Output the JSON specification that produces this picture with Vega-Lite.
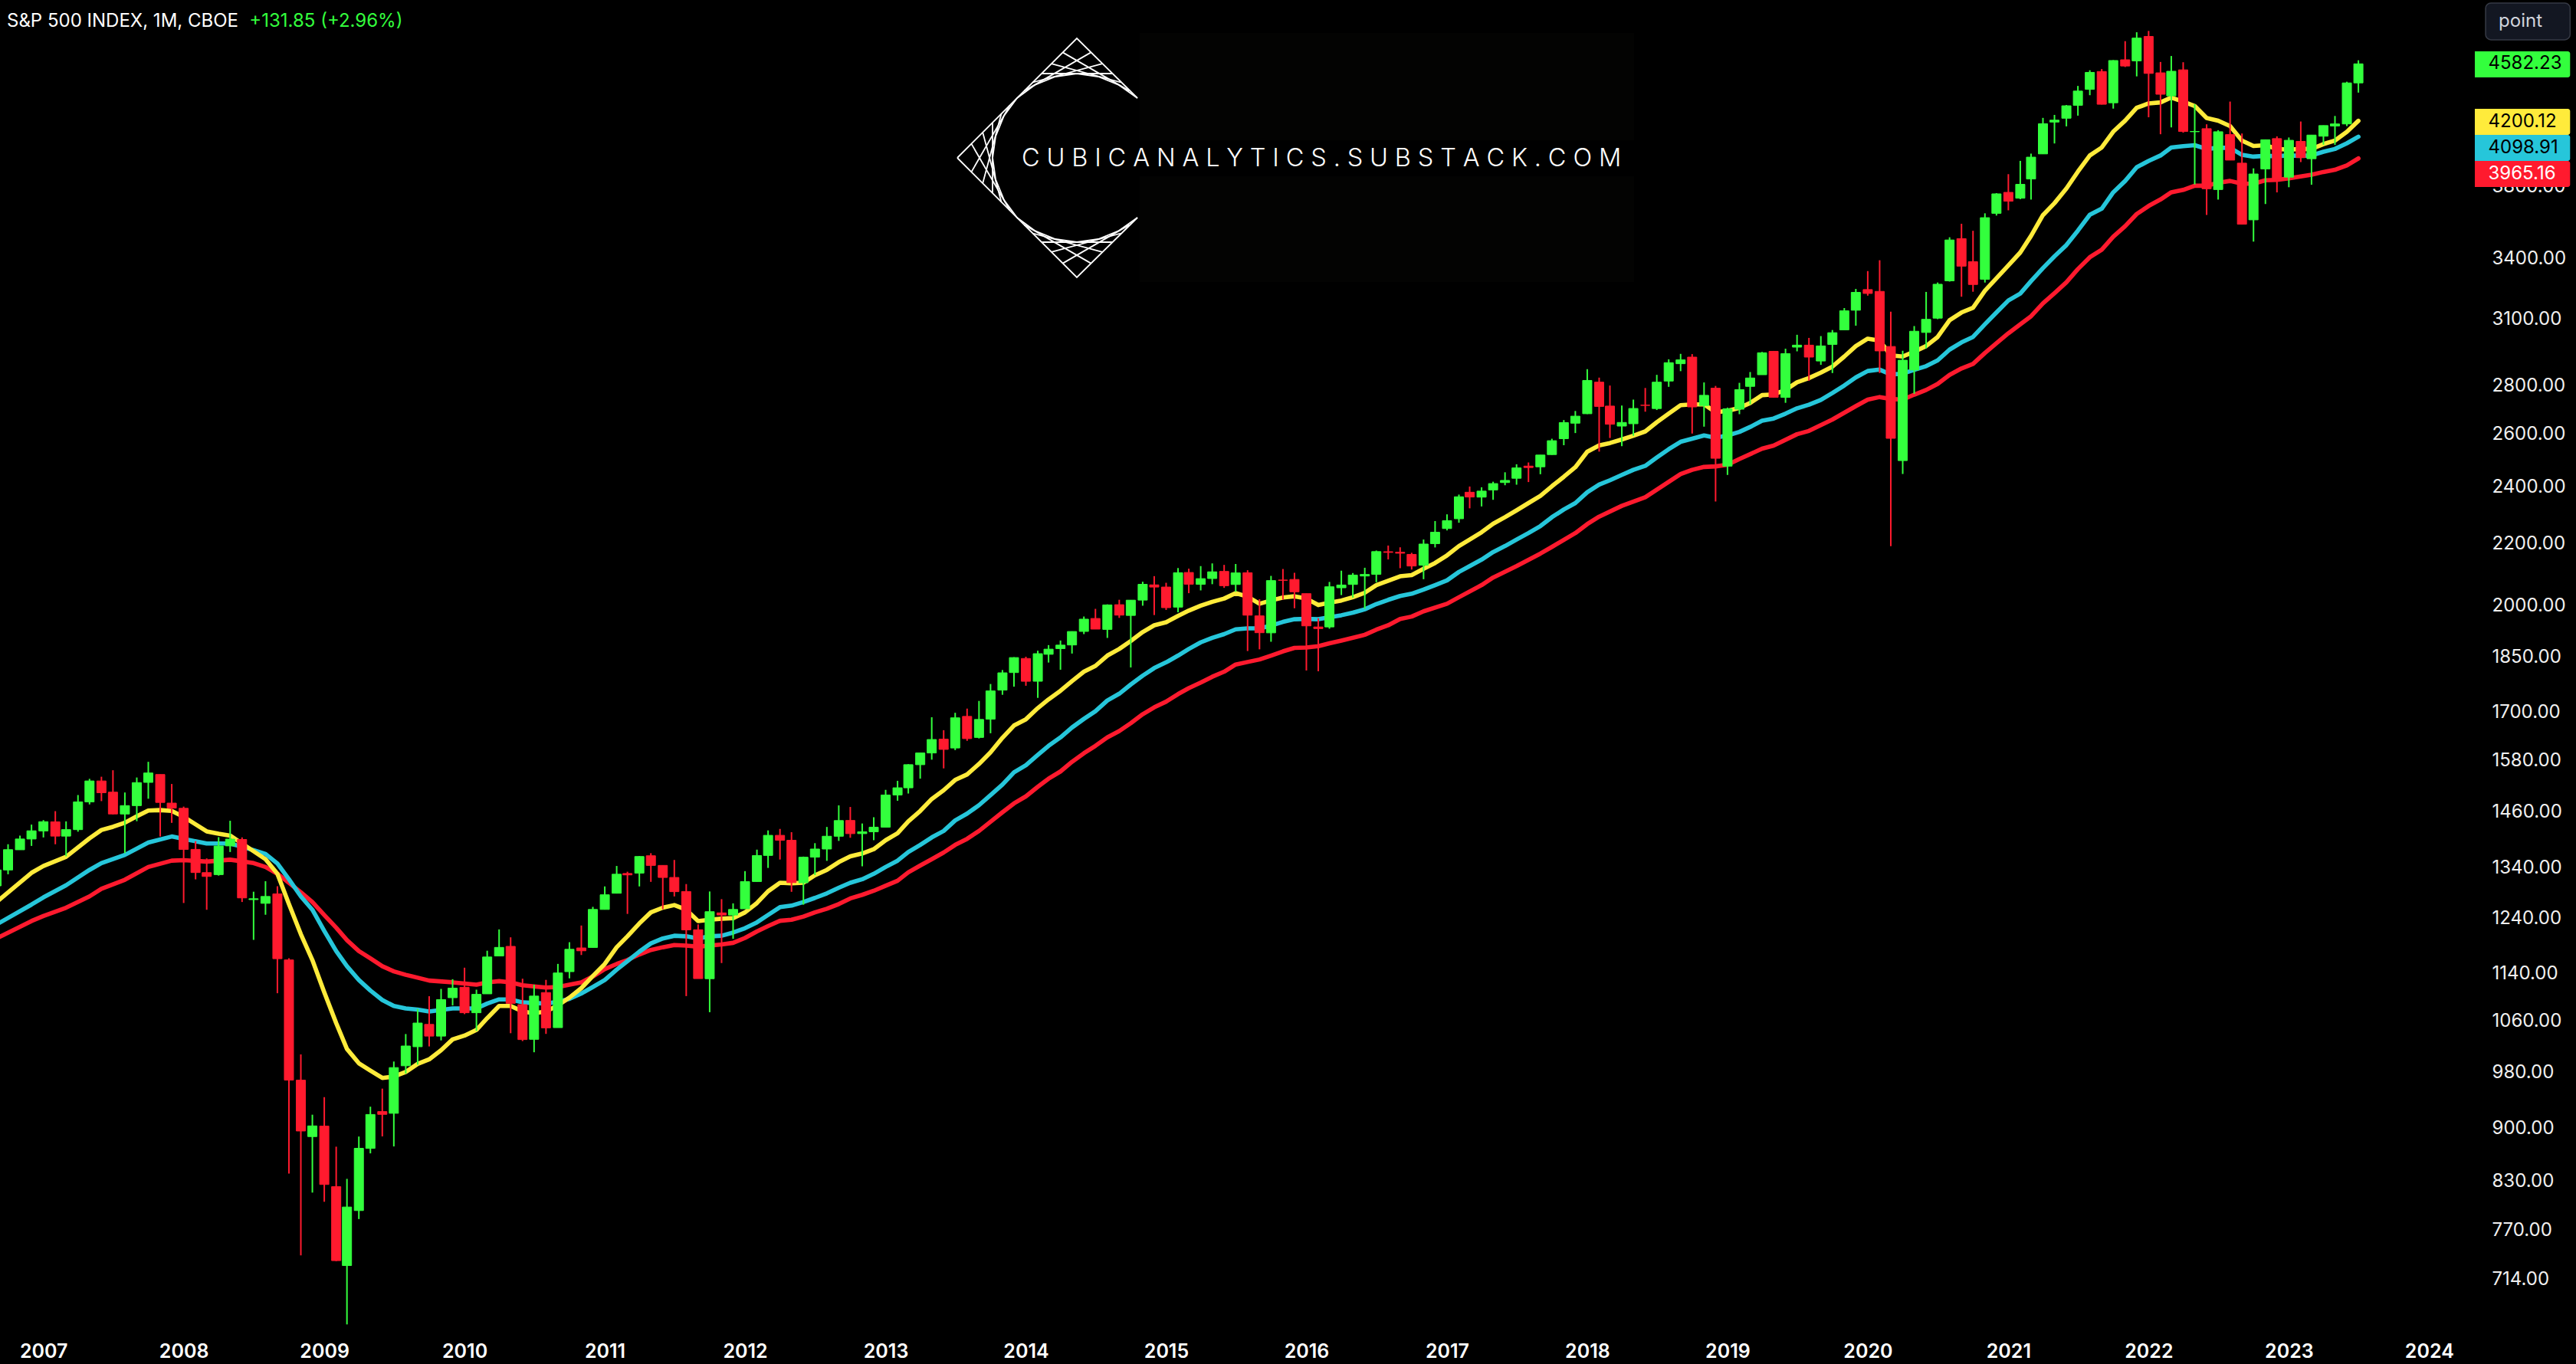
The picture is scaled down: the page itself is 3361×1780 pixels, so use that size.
{"$schema":"https://vega.github.io/schema/vega-lite/v6.json","width":3240,"height":1735,"padding":{"left":0,"top":0,"right":121,"bottom":45},"autosize":{"type":"none"},"background":"#000000","view":{"stroke":null},
"config":{"font":"Inter","axis":{"grid":false,"ticks":false,"domain":false}},
"datasets":{
"candles":[
{"d":"2006-09-01","o":1303.8,"h":1340.28,"l":1291.8,"c":1335.85},
{"d":"2006-10-01","o":1335.8,"h":1389.45,"l":1327.1,"c":1377.94},{"d":"2006-11-01","o":1377.76,"h":1407.89,"l":1377.76,"c":1400.63},{"d":"2006-12-01","o":1400.63,"h":1431.81,"l":1385.93,"c":1418.3},
{"d":"2007-01-01","o":1418.03,"h":1441.61,"l":1403.97,"c":1438.24},{"d":"2007-02-01","o":1437.9,"h":1461.57,"l":1389.42,"c":1406.82},{"d":"2007-03-01","o":1406.8,"h":1438.89,"l":1363.98,"c":1420.86},{"d":"2007-04-01","o":1420.83,"h":1498.02,"l":1416.37,"c":1482.37},{"d":"2007-05-01","o":1482.37,"h":1535.56,"l":1476.7,"c":1530.62},{"d":"2007-06-01","o":1530.62,"h":1540.56,"l":1484.18,"c":1503.35},{"d":"2007-07-01","o":1504.66,"h":1555.9,"l":1454.25,"c":1455.27},{"d":"2007-08-01","o":1455.18,"h":1503.89,"l":1370.6,"c":1473.99},{"d":"2007-09-01","o":1473.96,"h":1538.74,"l":1439.29,"c":1526.75},{"d":"2007-10-01","o":1527.29,"h":1576.09,"l":1489.56,"c":1549.38},{"d":"2007-11-01","o":1545.79,"h":1545.79,"l":1406.1,"c":1481.14},{"d":"2007-12-01","o":1479.63,"h":1523.57,"l":1435.65,"c":1468.36},
{"d":"2008-01-01","o":1467.97,"h":1471.77,"l":1270.05,"c":1378.55},{"d":"2008-02-01","o":1378.6,"h":1396.02,"l":1316.75,"c":1330.63},{"d":"2008-03-01","o":1330.45,"h":1359.68,"l":1256.98,"c":1322.7},{"d":"2008-04-01","o":1326.41,"h":1404.57,"l":1324.35,"c":1385.59},{"d":"2008-05-01","o":1385.97,"h":1440.24,"l":1373.07,"c":1400.38},{"d":"2008-06-01","o":1399.62,"h":1404.05,"l":1272,"c":1280},{"d":"2008-07-01","o":1276.69,"h":1292.17,"l":1200.44,"c":1278.38},{"d":"2008-08-01","o":1269.42,"h":1313.15,"l":1247.45,"c":1282.83},{"d":"2008-09-01","o":1287.83,"h":1303.04,"l":1106.42,"c":1166.36},{"d":"2008-10-01","o":1164.17,"h":1167.03,"l":839.8,"c":968.75},{"d":"2008-11-01","o":968.67,"h":1007.51,"l":741.02,"c":896.24},{"d":"2008-12-01","o":888.61,"h":918.85,"l":815.69,"c":903.25},
{"d":"2009-01-01","o":902.99,"h":943.85,"l":804.3,"c":825.88},{"d":"2009-02-01","o":823.09,"h":875.01,"l":734.52,"c":735.09},{"d":"2009-03-01","o":729.57,"h":832.98,"l":666.79,"c":797.87},{"d":"2009-04-01","o":793.59,"h":888.7,"l":783.32,"c":872.81},{"d":"2009-05-01","o":872.74,"h":930.17,"l":866.1,"c":919.14},{"d":"2009-06-01","o":923.26,"h":956.23,"l":888.86,"c":919.32},{"d":"2009-07-01","o":920.82,"h":996.68,"l":875.32,"c":987.48},{"d":"2009-08-01","o":990.22,"h":1039.47,"l":978.51,"c":1020.62},{"d":"2009-09-01","o":1019.52,"h":1080.15,"l":991.97,"c":1057.08},{"d":"2009-10-01","o":1054.91,"h":1101.36,"l":1019.95,"c":1036.19},{"d":"2009-11-01","o":1036.18,"h":1113.69,"l":1029.38,"c":1095.63},{"d":"2009-12-01","o":1098.89,"h":1130.38,"l":1085.89,"c":1115.1},
{"d":"2010-01-01","o":1116.56,"h":1150.45,"l":1071.59,"c":1073.87},{"d":"2010-02-01","o":1073.89,"h":1112.42,"l":1044.5,"c":1104.49},{"d":"2010-03-01","o":1105.36,"h":1180.69,"l":1105.36,"c":1169.43},{"d":"2010-04-01","o":1171.23,"h":1219.8,"l":1170.69,"c":1186.69},{"d":"2010-05-01","o":1188.58,"h":1205.13,"l":1040.78,"c":1089.41},{"d":"2010-06-01","o":1087.3,"h":1131.23,"l":1028.33,"c":1030.71},{"d":"2010-07-01","o":1031.1,"h":1120.95,"l":1010.91,"c":1101.6},{"d":"2010-08-01","o":1107.53,"h":1129.24,"l":1039.7,"c":1049.33},{"d":"2010-09-01","o":1049.72,"h":1157.16,"l":1049.72,"c":1141.2},{"d":"2010-10-01","o":1143.49,"h":1196.14,"l":1131.87,"c":1183.26},{"d":"2010-11-01","o":1185.71,"h":1227.08,"l":1173,"c":1180.55},{"d":"2010-12-01","o":1186.6,"h":1262.6,"l":1186.6,"c":1257.64},
{"d":"2011-01-01","o":1257.62,"h":1302.67,"l":1257.62,"c":1286.12},{"d":"2011-02-01","o":1289.14,"h":1344.07,"l":1289.14,"c":1327.22},{"d":"2011-03-01","o":1328.64,"h":1332.28,"l":1249.05,"c":1325.83},{"d":"2011-04-01","o":1329.48,"h":1364.56,"l":1302.67,"c":1363.61},{"d":"2011-05-01","o":1365.21,"h":1370.58,"l":1311.8,"c":1345.2},{"d":"2011-06-01","o":1345.2,"h":1345.2,"l":1258.07,"c":1320.64},{"d":"2011-07-01","o":1320.64,"h":1356.48,"l":1282.86,"c":1292.28},{"d":"2011-08-01","o":1292.59,"h":1307.38,"l":1101.54,"c":1218.89},{"d":"2011-09-01","o":1219.12,"h":1229.29,"l":1136.22,"c":1131.42},{"d":"2011-10-01","o":1131.21,"h":1292.66,"l":1074.77,"c":1253.3},{"d":"2011-11-01","o":1251,"h":1277.55,"l":1158.66,"c":1246.96},{"d":"2011-12-01","o":1246.91,"h":1269.37,"l":1202.37,"c":1257.6},
{"d":"2012-01-01","o":1258.86,"h":1333.47,"l":1258.86,"c":1312.41},{"d":"2012-02-01","o":1312.45,"h":1378.04,"l":1312.45,"c":1365.68},{"d":"2012-03-01","o":1365.9,"h":1419.15,"l":1340.03,"c":1408.47},{"d":"2012-04-01","o":1408.47,"h":1422.38,"l":1357.38,"c":1397.91},{"d":"2012-05-01","o":1397.86,"h":1415.32,"l":1291.98,"c":1310.33},{"d":"2012-06-01","o":1309.87,"h":1363.46,"l":1266.74,"c":1362.16},{"d":"2012-07-01","o":1362.33,"h":1391.74,"l":1325.41,"c":1379.32},{"d":"2012-08-01","o":1379.32,"h":1426.68,"l":1354.65,"c":1406.58},{"d":"2012-09-01","o":1406.54,"h":1474.51,"l":1396.56,"c":1440.67},{"d":"2012-10-01","o":1440.9,"h":1470.96,"l":1403.28,"c":1412.16},{"d":"2012-11-01","o":1412.2,"h":1434.27,"l":1343.35,"c":1416.18},{"d":"2012-12-01","o":1416.18,"h":1448,"l":1398.11,"c":1426.19},
{"d":"2013-01-01","o":1426.19,"h":1509.94,"l":1426.19,"c":1498.11},{"d":"2013-02-01","o":1498.11,"h":1530.94,"l":1485.01,"c":1514.68},{"d":"2013-03-01","o":1514.68,"h":1570.28,"l":1501.48,"c":1569.19},{"d":"2013-04-01","o":1569.18,"h":1597.35,"l":1536.03,"c":1597.57},{"d":"2013-05-01","o":1597.55,"h":1687.18,"l":1581.28,"c":1630.74},{"d":"2013-06-01","o":1631.71,"h":1654.19,"l":1560.33,"c":1606.28},{"d":"2013-07-01","o":1609.78,"h":1698.78,"l":1604.57,"c":1685.73},{"d":"2013-08-01","o":1689.42,"h":1709.67,"l":1627.47,"c":1632.97},{"d":"2013-09-01","o":1635.95,"h":1729.86,"l":1633.41,"c":1681.55},{"d":"2013-10-01","o":1682.41,"h":1775.22,"l":1646.47,"c":1756.54},{"d":"2013-11-01","o":1758.7,"h":1813.55,"l":1746.2,"c":1805.81},{"d":"2013-12-01","o":1806.55,"h":1849.44,"l":1767.99,"c":1848.36},
{"d":"2014-01-01","o":1845.86,"h":1850.84,"l":1770.45,"c":1782.59},{"d":"2014-02-01","o":1782.68,"h":1867.92,"l":1737.92,"c":1859.45},{"d":"2014-03-01","o":1857.68,"h":1883.97,"l":1834.44,"c":1872.34},{"d":"2014-04-01","o":1873.96,"h":1897.28,"l":1814.36,"c":1883.95},{"d":"2014-05-01","o":1884.39,"h":1924.03,"l":1859.79,"c":1923.57},{"d":"2014-06-01","o":1923.87,"h":1968.17,"l":1915.98,"c":1960.23},{"d":"2014-07-01","o":1962.29,"h":1991.39,"l":1930.67,"c":1930.67},{"d":"2014-08-01","o":1929.8,"h":2005.04,"l":1904.78,"c":2003.37},{"d":"2014-09-01","o":2004.07,"h":2019.26,"l":1964.04,"c":1972.29},{"d":"2014-10-01","o":1971.44,"h":2018.19,"l":1820.66,"c":2018.05},{"d":"2014-11-01","o":2018.21,"h":2075.76,"l":2001.01,"c":2067.56},{"d":"2014-12-01","o":2065.78,"h":2093.55,"l":1972.56,"c":2058.9},
{"d":"2015-01-01","o":2058.9,"h":2072.36,"l":1988.12,"c":1994.99},{"d":"2015-02-01","o":1996.67,"h":2119.59,"l":1980.9,"c":2104.5},{"d":"2015-03-01","o":2105.23,"h":2117.52,"l":2039.69,"c":2067.89},{"d":"2015-04-01","o":2067.63,"h":2125.92,"l":2048.38,"c":2085.51},{"d":"2015-05-01","o":2085.93,"h":2134.72,"l":2067.93,"c":2107.39},{"d":"2015-06-01","o":2108.64,"h":2129.87,"l":2056.32,"c":2063.11},{"d":"2015-07-01","o":2067,"h":2132.82,"l":2044.02,"c":2103.84},{"d":"2015-08-01","o":2104.49,"h":2112.66,"l":1867.01,"c":1972.18},{"d":"2015-09-01","o":1970.09,"h":2020.86,"l":1871.91,"c":1920.03},{"d":"2015-10-01","o":1919.65,"h":2094.32,"l":1893.7,"c":2079.36},{"d":"2015-11-01","o":2080.76,"h":2116.48,"l":2019.39,"c":2080.41},{"d":"2015-12-01","o":2082.93,"h":2104.27,"l":1993.26,"c":2043.94},
{"d":"2016-01-01","o":2038.2,"h":2038.2,"l":1812.29,"c":1940.24},{"d":"2016-02-01","o":1936.94,"h":1962.96,"l":1810.1,"c":1932.23},{"d":"2016-03-01","o":1937.09,"h":2075.07,"l":1931.81,"c":2059.74},{"d":"2016-04-01","o":2056.62,"h":2111.05,"l":2033.8,"c":2065.3},{"d":"2016-05-01","o":2067.17,"h":2103.48,"l":2025.91,"c":2096.95},{"d":"2016-06-01","o":2093.94,"h":2120.55,"l":1991.68,"c":2098.86},{"d":"2016-07-01","o":2099.34,"h":2177.09,"l":2074.02,"c":2173.6},{"d":"2016-08-01","o":2173.15,"h":2193.81,"l":2147.58,"c":2170.95},{"d":"2016-09-01","o":2171.33,"h":2187.87,"l":2119.12,"c":2168.27},{"d":"2016-10-01","o":2164.33,"h":2169.6,"l":2114.72,"c":2126.15},{"d":"2016-11-01","o":2128.68,"h":2214.1,"l":2083.79,"c":2198.81},{"d":"2016-12-01","o":2200.17,"h":2277.53,"l":2187.44,"c":2238.83},
{"d":"2017-01-01","o":2251.57,"h":2300.99,"l":2245.13,"c":2278.87},{"d":"2017-02-01","o":2285.59,"h":2371.54,"l":2271.65,"c":2363.64},{"d":"2017-03-01","o":2380.13,"h":2400.98,"l":2322.25,"c":2362.72},{"d":"2017-04-01","o":2362.34,"h":2398.16,"l":2328.95,"c":2384.2},{"d":"2017-05-01","o":2388.5,"h":2418.71,"l":2352.72,"c":2411.8},{"d":"2017-06-01","o":2415.65,"h":2453.82,"l":2405.7,"c":2423.41},{"d":"2017-07-01","o":2431.39,"h":2484.04,"l":2407.7,"c":2470.3},{"d":"2017-08-01","o":2477.1,"h":2490.87,"l":2417.35,"c":2471.65},{"d":"2017-09-01","o":2474.42,"h":2519.44,"l":2446.55,"c":2519.36},{"d":"2017-10-01","o":2521.2,"h":2582.98,"l":2520.4,"c":2575.26},{"d":"2017-11-01","o":2583.21,"h":2657.74,"l":2557.45,"c":2647.58},{"d":"2017-12-01","o":2645.1,"h":2694.97,"l":2605.52,"c":2673.61},
{"d":"2018-01-01","o":2683.73,"h":2872.87,"l":2682.36,"c":2823.81},{"d":"2018-02-01","o":2816.45,"h":2835.96,"l":2532.69,"c":2713.83},{"d":"2018-03-01","o":2715.22,"h":2801.9,"l":2585.89,"c":2640.87},{"d":"2018-04-01","o":2633.45,"h":2717.49,"l":2553.8,"c":2648.05},{"d":"2018-05-01","o":2642.96,"h":2742.24,"l":2594.62,"c":2705.27},{"d":"2018-06-01","o":2718.7,"h":2791.47,"l":2691.99,"c":2718.37},{"d":"2018-07-01","o":2704.95,"h":2848.03,"l":2698.95,"c":2816.29},{"d":"2018-08-01","o":2821.17,"h":2916.5,"l":2796.34,"c":2901.52},{"d":"2018-09-01","o":2896.96,"h":2940.91,"l":2864.12,"c":2913.98},{"d":"2018-10-01","o":2926.29,"h":2939.86,"l":2603.54,"c":2711.74},{"d":"2018-11-01","o":2717.58,"h":2815.15,"l":2631.09,"c":2760.17},{"d":"2018-12-01","o":2790.5,"h":2800.18,"l":2346.58,"c":2506.85},
{"d":"2019-01-01","o":2476.96,"h":2708.95,"l":2443.96,"c":2704.1},{"d":"2019-02-01","o":2702.32,"h":2813.49,"l":2681.83,"c":2784.49},{"d":"2019-03-01","o":2798.22,"h":2860.31,"l":2722.27,"c":2834.4},{"d":"2019-04-01","o":2848.63,"h":2949.52,"l":2848.63,"c":2945.83},{"d":"2019-05-01","o":2952.33,"h":2954.13,"l":2750.52,"c":2752.06},{"d":"2019-06-01","o":2751.53,"h":2964.15,"l":2728.81,"c":2941.76},{"d":"2019-07-01","o":2971.41,"h":3027.98,"l":2952.22,"c":2980.38},{"d":"2019-08-01","o":2980.32,"h":3013.59,"l":2822.12,"c":2926.46},{"d":"2019-09-01","o":2909.01,"h":3021.99,"l":2891.85,"c":2976.74},{"d":"2019-10-01","o":2983.69,"h":3050.1,"l":2855.94,"c":3037.56},{"d":"2019-11-01","o":3050.72,"h":3154.26,"l":3050.72,"c":3140.98},{"d":"2019-12-01","o":3143.85,"h":3247.93,"l":3070.33,"c":3230.78},
{"d":"2020-01-01","o":3244.67,"h":3337.77,"l":3214.64,"c":3225.52},{"d":"2020-02-01","o":3235.66,"h":3393.52,"l":2855.84,"c":2954.22},{"d":"2020-03-01","o":2974.28,"h":3136.72,"l":2191.86,"c":2584.59},{"d":"2020-04-01","o":2498.08,"h":2954.86,"l":2447.49,"c":2912.43},{"d":"2020-05-01","o":2869.09,"h":3068.67,"l":2766.64,"c":3044.31},{"d":"2020-06-01","o":3038.78,"h":3233.13,"l":2965.66,"c":3100.29},{"d":"2020-07-01","o":3105.92,"h":3279.99,"l":3101.17,"c":3271.12},{"d":"2020-08-01","o":3288.26,"h":3514.77,"l":3284.53,"c":3500.31},{"d":"2020-09-01","o":3507.44,"h":3588.11,"l":3209.45,"c":3363},{"d":"2020-10-01","o":3385.87,"h":3549.85,"l":3233.94,"c":3269.96},{"d":"2020-11-01","o":3296.2,"h":3645.99,"l":3279.74,"c":3621.63},{"d":"2020-12-01","o":3645.87,"h":3760.2,"l":3633.4,"c":3756.07},
{"d":"2021-01-01","o":3764.61,"h":3870.9,"l":3662.71,"c":3714.24},{"d":"2021-02-01","o":3731.17,"h":3950.43,"l":3725.62,"c":3811.15},{"d":"2021-03-01","o":3842.51,"h":3994.41,"l":3723.34,"c":3972.89},{"d":"2021-04-01","o":3992.78,"h":4218.78,"l":3992.78,"c":4181.17},{"d":"2021-05-01","o":4191.98,"h":4238.04,"l":4056.88,"c":4204.11},{"d":"2021-06-01","o":4216.52,"h":4302.43,"l":4164.4,"c":4297.5},{"d":"2021-07-01","o":4300.73,"h":4429.97,"l":4233.13,"c":4395.26},{"d":"2021-08-01","o":4406.86,"h":4537.36,"l":4367.73,"c":4522.68},{"d":"2021-09-01","o":4528.8,"h":4545.85,"l":4305.91,"c":4307.54},{"d":"2021-10-01","o":4317.16,"h":4608.08,"l":4278.94,"c":4605.38},{"d":"2021-11-01","o":4610.62,"h":4743.83,"l":4560,"c":4567},{"d":"2021-12-01","o":4602.82,"h":4808.93,"l":4495.12,"c":4766.18},
{"d":"2022-01-01","o":4778.14,"h":4818.62,"l":4222.62,"c":4515.55},{"d":"2022-02-01","o":4519.57,"h":4595.31,"l":4114.65,"c":4373.94},{"d":"2022-03-01","o":4363.14,"h":4637.3,"l":4157.87,"c":4530.41},{"d":"2022-04-01","o":4540.32,"h":4593.45,"l":4124.28,"c":4131.93},{"d":"2022-05-01","o":4130.61,"h":4307.66,"l":3810.32,"c":4132.15},{"d":"2022-06-01","o":4149.78,"h":4177.51,"l":3636.87,"c":3785.38},{"d":"2022-07-01","o":3781,"h":4140.15,"l":3723.34,"c":4130.29},{"d":"2022-08-01","o":4112.38,"h":4325.28,"l":3954.53,"c":3955},{"d":"2022-09-01","o":3936.73,"h":4119.28,"l":3584.13,"c":3585.62},{"d":"2022-10-01","o":3609.78,"h":3905.42,"l":3491.58,"c":3871.98},{"d":"2022-11-01","o":3901.79,"h":4080.11,"l":3698.15,"c":4080.11},{"d":"2022-12-01","o":4087.14,"h":4100.96,"l":3764.49,"c":3839.5},
{"d":"2023-01-01","o":3853.29,"h":4094.21,"l":3794.33,"c":4076.6},{"d":"2023-02-01","o":4070.07,"h":4195.44,"l":3943.08,"c":3970.15},{"d":"2023-03-01","o":3963.34,"h":4110.75,"l":3808.86,"c":4109.31},{"d":"2023-04-01","o":4102.2,"h":4170.06,"l":4049.35,"c":4169.48},{"d":"2023-05-01","o":4166.79,"h":4231.1,"l":4048.28,"c":4179.83},{"d":"2023-06-01","o":4179.83,"h":4458.48,"l":4166.15,"c":4450.38},{"d":"2023-07-01","o":4450.48,"h":4607.07,"l":4385.05,"c":4582.23}
],
"ma":[
{"d":"2006-09-01","s":"slow","v":1203},{"d":"2006-12-01","s":"slow","v":1235.5},{"d":"2007-01-01","s":"slow","v":1245},{"d":"2007-03-01","s":"slow","v":1261},{"d":"2007-05-01","s":"slow","v":1283},{"d":"2007-06-01","s":"slow","v":1298},{"d":"2007-08-01","s":"slow","v":1316},{"d":"2007-10-01","s":"slow","v":1342},{"d":"2007-12-01","s":"slow","v":1355},{"d":"2008-01-01","s":"slow","v":1356},{"d":"2008-03-01","s":"slow","v":1353},{"d":"2008-05-01","s":"slow","v":1357},{"d":"2008-07-01","s":"slow","v":1350},{"d":"2008-08-01","s":"slow","v":1342},{"d":"2008-09-01","s":"slow","v":1328},{"d":"2008-10-01","s":"slow","v":1310},{"d":"2008-11-01","s":"slow","v":1291},{"d":"2008-12-01","s":"slow","v":1272},{"d":"2009-01-01","s":"slow","v":1247},{"d":"2009-02-01","s":"slow","v":1223},{"d":"2009-03-01","s":"slow","v":1200},{"d":"2009-04-01","s":"slow","v":1180},{"d":"2009-05-01","s":"slow","v":1167},{"d":"2009-06-01","s":"slow","v":1153},{"d":"2009-07-01","s":"slow","v":1144},{"d":"2009-08-01","s":"slow","v":1138},{"d":"2009-09-01","s":"slow","v":1133},{"d":"2009-10-01","s":"slow","v":1128},{"d":"2009-12-01","s":"slow","v":1125},{"d":"2010-02-01","s":"slow","v":1121},{"d":"2010-03-01","s":"slow","v":1125},{"d":"2010-04-01","s":"slow","v":1127},{"d":"2010-05-01","s":"slow","v":1125},{"d":"2010-06-01","s":"slow","v":1120},{"d":"2010-07-01","s":"slow","v":1118},{"d":"2010-08-01","s":"slow","v":1116},{"d":"2010-09-01","s":"slow","v":1117},{"d":"2010-10-01","s":"slow","v":1121},{"d":"2010-11-01","s":"slow","v":1125},{"d":"2010-12-01","s":"slow","v":1135},{"d":"2011-01-01","s":"slow","v":1148},{"d":"2011-02-01","s":"slow","v":1157},{"d":"2011-03-01","s":"slow","v":1164},{"d":"2011-04-01","s":"slow","v":1174},{"d":"2011-05-01","s":"slow","v":1182},{"d":"2011-06-01","s":"slow","v":1187},{"d":"2011-07-01","s":"slow","v":1191},{"d":"2011-08-01","s":"slow","v":1190},{"d":"2011-09-01","s":"slow","v":1188},{"d":"2011-10-01","s":"slow","v":1190},{"d":"2011-11-01","s":"slow","v":1192},{"d":"2011-12-01","s":"slow","v":1195},{"d":"2012-01-01","s":"slow","v":1204},{"d":"2012-02-01","s":"slow","v":1216},{"d":"2012-03-01","s":"slow","v":1226},{"d":"2012-04-01","s":"slow","v":1236},{"d":"2012-05-01","s":"slow","v":1238},{"d":"2012-06-01","s":"slow","v":1244},{"d":"2012-07-01","s":"slow","v":1252},{"d":"2012-08-01","s":"slow","v":1259},{"d":"2012-09-01","s":"slow","v":1268},{"d":"2012-10-01","s":"slow","v":1279},{"d":"2012-11-01","s":"slow","v":1286},{"d":"2012-12-01","s":"slow","v":1294},{"d":"2013-01-01","s":"slow","v":1304},{"d":"2013-02-01","s":"slow","v":1314},{"d":"2013-03-01","s":"slow","v":1331},{"d":"2013-04-01","s":"slow","v":1345},{"d":"2013-05-01","s":"slow","v":1358},{"d":"2013-06-01","s":"slow","v":1372},{"d":"2013-07-01","s":"slow","v":1388},{"d":"2013-08-01","s":"slow","v":1401},{"d":"2013-09-01","s":"slow","v":1418},{"d":"2013-10-01","s":"slow","v":1438},{"d":"2013-11-01","s":"slow","v":1459},{"d":"2013-12-01","s":"slow","v":1479},{"d":"2014-01-01","s":"slow","v":1495},{"d":"2014-02-01","s":"slow","v":1517},{"d":"2014-03-01","s":"slow","v":1536},{"d":"2014-04-01","s":"slow","v":1553},{"d":"2014-05-01","s":"slow","v":1576},{"d":"2014-06-01","s":"slow","v":1597},{"d":"2014-07-01","s":"slow","v":1615},{"d":"2014-08-01","s":"slow","v":1636},{"d":"2014-09-01","s":"slow","v":1652},{"d":"2014-10-01","s":"slow","v":1672},{"d":"2014-11-01","s":"slow","v":1695},{"d":"2014-12-01","s":"slow","v":1713},{"d":"2015-01-01","s":"slow","v":1728},{"d":"2015-02-01","s":"slow","v":1748},{"d":"2015-03-01","s":"slow","v":1764},{"d":"2015-04-01","s":"slow","v":1779},{"d":"2015-05-01","s":"slow","v":1795},{"d":"2015-06-01","s":"slow","v":1809},{"d":"2015-07-01","s":"slow","v":1829},{"d":"2015-08-01","s":"slow","v":1836},{"d":"2015-09-01","s":"slow","v":1843},{"d":"2015-10-01","s":"slow","v":1854},{"d":"2015-11-01","s":"slow","v":1866},{"d":"2015-12-01","s":"slow","v":1876},{"d":"2016-01-01","s":"slow","v":1877},{"d":"2016-02-01","s":"slow","v":1881},{"d":"2016-03-01","s":"slow","v":1889},{"d":"2016-04-01","s":"slow","v":1897},{"d":"2016-06-01","s":"slow","v":1914},{"d":"2016-07-01","s":"slow","v":1929},{"d":"2016-08-01","s":"slow","v":1942},{"d":"2016-09-01","s":"slow","v":1961},{"d":"2016-10-01","s":"slow","v":1968},{"d":"2016-11-01","s":"slow","v":1984},{"d":"2017-01-01","s":"slow","v":2007},{"d":"2017-02-01","s":"slow","v":2027},{"d":"2017-04-01","s":"slow","v":2065},{"d":"2017-05-01","s":"slow","v":2089},{"d":"2017-07-01","s":"slow","v":2126},{"d":"2017-09-01","s":"slow","v":2167},{"d":"2017-10-01","s":"slow","v":2189},{"d":"2017-12-01","s":"slow","v":2236},{"d":"2018-01-01","s":"slow","v":2267},{"d":"2018-02-01","s":"slow","v":2293},{"d":"2018-04-01","s":"slow","v":2331},{"d":"2018-06-01","s":"slow","v":2362},{"d":"2018-09-01","s":"slow","v":2447},{"d":"2018-10-01","s":"slow","v":2463},{"d":"2018-11-01","s":"slow","v":2474},{"d":"2018-12-01","s":"slow","v":2476},{"d":"2019-01-01","s":"slow","v":2482},{"d":"2019-02-01","s":"slow","v":2504},{"d":"2019-04-01","s":"slow","v":2544},{"d":"2019-05-01","s":"slow","v":2556},{"d":"2019-07-01","s":"slow","v":2601},{"d":"2019-08-01","s":"slow","v":2614},{"d":"2019-10-01","s":"slow","v":2660},{"d":"2019-12-01","s":"slow","v":2715},{"d":"2020-01-01","s":"slow","v":2742},{"d":"2020-02-01","s":"slow","v":2753},{"d":"2020-03-01","s":"slow","v":2745},{"d":"2020-04-01","s":"slow","v":2742},{"d":"2020-05-01","s":"slow","v":2763},{"d":"2020-06-01","s":"slow","v":2783},{"d":"2020-07-01","s":"slow","v":2809},{"d":"2020-08-01","s":"slow","v":2848},{"d":"2020-09-01","s":"slow","v":2876},{"d":"2020-10-01","s":"slow","v":2896},{"d":"2020-11-01","s":"slow","v":2945},{"d":"2020-12-01","s":"slow","v":2989},{"d":"2021-01-01","s":"slow","v":3035},{"d":"2021-02-01","s":"slow","v":3077},{"d":"2021-03-01","s":"slow","v":3115},{"d":"2021-04-01","s":"slow","v":3177},{"d":"2021-05-01","s":"slow","v":3227},{"d":"2021-06-01","s":"slow","v":3281},{"d":"2021-07-01","s":"slow","v":3348},{"d":"2021-08-01","s":"slow","v":3409},{"d":"2021-09-01","s":"slow","v":3449},{"d":"2021-10-01","s":"slow","v":3518},{"d":"2021-11-01","s":"slow","v":3575},{"d":"2021-12-01","s":"slow","v":3642},{"d":"2022-01-01","s":"slow","v":3687},{"d":"2022-02-01","s":"slow","v":3724},{"d":"2022-03-01","s":"slow","v":3765},{"d":"2022-04-01","s":"slow","v":3779},{"d":"2022-05-01","s":"slow","v":3803},{"d":"2022-06-01","s":"slow","v":3803},{"d":"2022-07-01","s":"slow","v":3820},{"d":"2022-08-01","s":"slow","v":3831},{"d":"2022-09-01","s":"slow","v":3815},{"d":"2022-10-01","s":"slow","v":3815},{"d":"2022-11-01","s":"slow","v":3835},{"d":"2022-12-01","s":"slow","v":3837},{"d":"2023-01-01","s":"slow","v":3846},{"d":"2023-02-01","s":"slow","v":3857},{"d":"2023-03-01","s":"slow","v":3868},{"d":"2023-04-01","s":"slow","v":3884},{"d":"2023-05-01","s":"slow","v":3897},{"d":"2023-06-01","s":"slow","v":3923},{"d":"2023-07-01","s":"slow","v":3965.16},
{"d":"2006-09-01","s":"mid","v":1229},{"d":"2006-12-01","s":"mid","v":1267},{"d":"2007-01-01","s":"mid","v":1281},{"d":"2007-03-01","s":"mid","v":1305},{"d":"2007-05-01","s":"mid","v":1336},{"d":"2007-06-01","s":"mid","v":1350},{"d":"2007-08-01","s":"mid","v":1367},{"d":"2007-10-01","s":"mid","v":1393},{"d":"2007-12-01","s":"mid","v":1406},{"d":"2008-01-01","s":"mid","v":1401},{"d":"2008-03-01","s":"mid","v":1391},{"d":"2008-05-01","s":"mid","v":1391},{"d":"2008-07-01","s":"mid","v":1377},{"d":"2008-08-01","s":"mid","v":1369},{"d":"2008-09-01","s":"mid","v":1349},{"d":"2008-10-01","s":"mid","v":1317},{"d":"2008-11-01","s":"mid","v":1283},{"d":"2008-12-01","s":"mid","v":1257},{"d":"2009-01-01","s":"mid","v":1217},{"d":"2009-02-01","s":"mid","v":1180},{"d":"2009-03-01","s":"mid","v":1153},{"d":"2009-04-01","s":"mid","v":1129},{"d":"2009-05-01","s":"mid","v":1111},{"d":"2009-06-01","s":"mid","v":1095},{"d":"2009-07-01","s":"mid","v":1085},{"d":"2009-08-01","s":"mid","v":1081},{"d":"2009-09-01","s":"mid","v":1079},{"d":"2009-10-01","s":"mid","v":1076},{"d":"2009-12-01","s":"mid","v":1081},{"d":"2010-02-01","s":"mid","v":1081},{"d":"2010-03-01","s":"mid","v":1089},{"d":"2010-04-01","s":"mid","v":1096},{"d":"2010-05-01","s":"mid","v":1096},{"d":"2010-06-01","s":"mid","v":1091},{"d":"2010-08-01","s":"mid","v":1089},{"d":"2010-09-01","s":"mid","v":1092},{"d":"2010-10-01","s":"mid","v":1097},{"d":"2010-11-01","s":"mid","v":1106},{"d":"2010-12-01","s":"mid","v":1117},{"d":"2011-01-01","s":"mid","v":1129},{"d":"2011-02-01","s":"mid","v":1147},{"d":"2011-03-01","s":"mid","v":1162},{"d":"2011-04-01","s":"mid","v":1179},{"d":"2011-05-01","s":"mid","v":1194},{"d":"2011-06-01","s":"mid","v":1203},{"d":"2011-07-01","s":"mid","v":1208},{"d":"2011-08-01","s":"mid","v":1207},{"d":"2011-09-01","s":"mid","v":1203},{"d":"2011-10-01","s":"mid","v":1207},{"d":"2011-11-01","s":"mid","v":1208},{"d":"2011-12-01","s":"mid","v":1214},{"d":"2012-01-01","s":"mid","v":1222},{"d":"2012-02-01","s":"mid","v":1233},{"d":"2012-03-01","s":"mid","v":1247},{"d":"2012-04-01","s":"mid","v":1262},{"d":"2012-05-01","s":"mid","v":1265},{"d":"2012-06-01","s":"mid","v":1272},{"d":"2012-07-01","s":"mid","v":1280},{"d":"2012-08-01","s":"mid","v":1289},{"d":"2012-09-01","s":"mid","v":1300},{"d":"2012-10-01","s":"mid","v":1310},{"d":"2012-11-01","s":"mid","v":1317},{"d":"2012-12-01","s":"mid","v":1328},{"d":"2013-01-01","s":"mid","v":1342},{"d":"2013-02-01","s":"mid","v":1355},{"d":"2013-03-01","s":"mid","v":1373},{"d":"2013-04-01","s":"mid","v":1388},{"d":"2013-05-01","s":"mid","v":1404},{"d":"2013-06-01","s":"mid","v":1418},{"d":"2013-07-01","s":"mid","v":1441},{"d":"2013-08-01","s":"mid","v":1456},{"d":"2013-09-01","s":"mid","v":1475},{"d":"2013-10-01","s":"mid","v":1498},{"d":"2013-11-01","s":"mid","v":1522},{"d":"2013-12-01","s":"mid","v":1551},{"d":"2014-01-01","s":"mid","v":1568},{"d":"2014-02-01","s":"mid","v":1593},{"d":"2014-03-01","s":"mid","v":1615},{"d":"2014-04-01","s":"mid","v":1636},{"d":"2014-05-01","s":"mid","v":1661},{"d":"2014-06-01","s":"mid","v":1683},{"d":"2014-07-01","s":"mid","v":1703},{"d":"2014-08-01","s":"mid","v":1731},{"d":"2014-09-01","s":"mid","v":1749},{"d":"2014-10-01","s":"mid","v":1774},{"d":"2014-11-01","s":"mid","v":1798},{"d":"2014-12-01","s":"mid","v":1819},{"d":"2015-01-01","s":"mid","v":1835},{"d":"2015-02-01","s":"mid","v":1854},{"d":"2015-03-01","s":"mid","v":1873},{"d":"2015-04-01","s":"mid","v":1892},{"d":"2015-05-01","s":"mid","v":1905},{"d":"2015-06-01","s":"mid","v":1916},{"d":"2015-07-01","s":"mid","v":1930},{"d":"2015-08-01","s":"mid","v":1933},{"d":"2015-09-01","s":"mid","v":1933},{"d":"2015-10-01","s":"mid","v":1941},{"d":"2015-11-01","s":"mid","v":1952},{"d":"2015-12-01","s":"mid","v":1960},{"d":"2016-01-01","s":"mid","v":1961},{"d":"2016-02-01","s":"mid","v":1960},{"d":"2016-03-01","s":"mid","v":1966},{"d":"2016-04-01","s":"mid","v":1972},{"d":"2016-05-01","s":"mid","v":1980},{"d":"2016-06-01","s":"mid","v":1990},{"d":"2016-07-01","s":"mid","v":2006},{"d":"2016-08-01","s":"mid","v":2019},{"d":"2016-09-01","s":"mid","v":2031},{"d":"2016-10-01","s":"mid","v":2038},{"d":"2016-11-01","s":"mid","v":2051},{"d":"2016-12-01","s":"mid","v":2065},{"d":"2017-01-01","s":"mid","v":2080},{"d":"2017-02-01","s":"mid","v":2107},{"d":"2017-03-01","s":"mid","v":2126},{"d":"2017-04-01","s":"mid","v":2147},{"d":"2017-05-01","s":"mid","v":2172},{"d":"2017-06-01","s":"mid","v":2192},{"d":"2017-07-01","s":"mid","v":2214},{"d":"2017-08-01","s":"mid","v":2236},{"d":"2017-09-01","s":"mid","v":2260},{"d":"2017-10-01","s":"mid","v":2291},{"d":"2017-11-01","s":"mid","v":2318},{"d":"2017-12-01","s":"mid","v":2341},{"d":"2018-01-01","s":"mid","v":2380},{"d":"2018-02-01","s":"mid","v":2408},{"d":"2018-03-01","s":"mid","v":2424},{"d":"2018-04-01","s":"mid","v":2444},{"d":"2018-05-01","s":"mid","v":2463},{"d":"2018-06-01","s":"mid","v":2478},{"d":"2018-07-01","s":"mid","v":2510},{"d":"2018-08-01","s":"mid","v":2542},{"d":"2018-09-01","s":"mid","v":2571},{"d":"2018-10-01","s":"mid","v":2583},{"d":"2018-11-01","s":"mid","v":2596},{"d":"2018-12-01","s":"mid","v":2587},{"d":"2019-01-01","s":"mid","v":2596},{"d":"2019-02-01","s":"mid","v":2610},{"d":"2019-03-01","s":"mid","v":2630},{"d":"2019-04-01","s":"mid","v":2655},{"d":"2019-05-01","s":"mid","v":2664},{"d":"2019-06-01","s":"mid","v":2684},{"d":"2019-07-01","s":"mid","v":2706},{"d":"2019-08-01","s":"mid","v":2721},{"d":"2019-09-01","s":"mid","v":2741},{"d":"2019-10-01","s":"mid","v":2770},{"d":"2019-11-01","s":"mid","v":2802},{"d":"2019-12-01","s":"mid","v":2837},{"d":"2020-01-01","s":"mid","v":2865},{"d":"2020-02-01","s":"mid","v":2871},{"d":"2020-03-01","s":"mid","v":2850},{"d":"2020-04-01","s":"mid","v":2853},{"d":"2020-05-01","s":"mid","v":2870},{"d":"2020-06-01","s":"mid","v":2886},{"d":"2020-07-01","s":"mid","v":2912},{"d":"2020-08-01","s":"mid","v":2960},{"d":"2020-09-01","s":"mid","v":2993},{"d":"2020-10-01","s":"mid","v":3018},{"d":"2020-11-01","s":"mid","v":3077},{"d":"2020-12-01","s":"mid","v":3133},{"d":"2021-01-01","s":"mid","v":3191},{"d":"2021-02-01","s":"mid","v":3225},{"d":"2021-03-01","s":"mid","v":3287},{"d":"2021-04-01","s":"mid","v":3353},{"d":"2021-05-01","s":"mid","v":3414},{"d":"2021-06-01","s":"mid","v":3473},{"d":"2021-07-01","s":"mid","v":3551},{"d":"2021-08-01","s":"mid","v":3638},{"d":"2021-09-01","s":"mid","v":3672},{"d":"2021-10-01","s":"mid","v":3765},{"d":"2021-11-01","s":"mid","v":3831},{"d":"2021-12-01","s":"mid","v":3912},{"d":"2022-01-01","s":"mid","v":3950},{"d":"2022-02-01","s":"mid","v":3983},{"d":"2022-03-01","s":"mid","v":4032},{"d":"2022-04-01","s":"mid","v":4040},{"d":"2022-05-01","s":"mid","v":4046},{"d":"2022-06-01","s":"mid","v":4023},{"d":"2022-07-01","s":"mid","v":4030},{"d":"2022-08-01","s":"mid","v":4030},{"d":"2022-09-01","s":"mid","v":3987},{"d":"2022-10-01","s":"mid","v":3976},{"d":"2022-11-01","s":"mid","v":3981},{"d":"2022-12-01","s":"mid","v":3979},{"d":"2023-01-01","s":"mid","v":3983},{"d":"2023-02-01","s":"mid","v":3981},{"d":"2023-03-01","s":"mid","v":3983},{"d":"2023-04-01","s":"mid","v":4006},{"d":"2023-05-01","s":"mid","v":4023},{"d":"2023-06-01","s":"mid","v":4058},{"d":"2023-07-01","s":"mid","v":4098.91},
{"d":"2006-09-01","s":"fast","v":1272},{"d":"2006-12-01","s":"fast","v":1330},{"d":"2007-01-01","s":"fast","v":1344},{"d":"2007-03-01","s":"fast","v":1363},{"d":"2007-05-01","s":"fast","v":1402},{"d":"2007-06-01","s":"fast","v":1420},{"d":"2007-07-01","s":"fast","v":1427},{"d":"2007-08-01","s":"fast","v":1436},{"d":"2007-09-01","s":"fast","v":1450},{"d":"2007-10-01","s":"fast","v":1463},{"d":"2007-11-01","s":"fast","v":1464},{"d":"2007-12-01","s":"fast","v":1462},{"d":"2008-01-01","s":"fast","v":1449},{"d":"2008-03-01","s":"fast","v":1417},{"d":"2008-04-01","s":"fast","v":1412},{"d":"2008-05-01","s":"fast","v":1408},{"d":"2008-06-01","s":"fast","v":1391},{"d":"2008-08-01","s":"fast","v":1358},{"d":"2008-09-01","s":"fast","v":1328},{"d":"2008-10-01","s":"fast","v":1268},{"d":"2008-11-01","s":"fast","v":1211},{"d":"2008-12-01","s":"fast","v":1164},{"d":"2009-01-01","s":"fast","v":1108},{"d":"2009-02-01","s":"fast","v":1057},{"d":"2009-03-01","s":"fast","v":1016},{"d":"2009-04-01","s":"fast","v":994},{"d":"2009-05-01","s":"fast","v":983},{"d":"2009-06-01","s":"fast","v":972},{"d":"2009-07-01","s":"fast","v":974},{"d":"2009-08-01","s":"fast","v":981},{"d":"2009-09-01","s":"fast","v":993},{"d":"2009-10-01","s":"fast","v":1000},{"d":"2009-11-01","s":"fast","v":1014},{"d":"2009-12-01","s":"fast","v":1031},{"d":"2010-01-01","s":"fast","v":1037},{"d":"2010-02-01","s":"fast","v":1046},{"d":"2010-03-01","s":"fast","v":1065},{"d":"2010-04-01","s":"fast","v":1085},{"d":"2010-05-01","s":"fast","v":1085},{"d":"2010-06-01","s":"fast","v":1076},{"d":"2010-07-01","s":"fast","v":1073},{"d":"2010-08-01","s":"fast","v":1076},{"d":"2010-09-01","s":"fast","v":1086},{"d":"2010-10-01","s":"fast","v":1099},{"d":"2010-11-01","s":"fast","v":1115},{"d":"2010-12-01","s":"fast","v":1136},{"d":"2011-01-01","s":"fast","v":1157},{"d":"2011-02-01","s":"fast","v":1187},{"d":"2011-03-01","s":"fast","v":1207},{"d":"2011-04-01","s":"fast","v":1231},{"d":"2011-05-01","s":"fast","v":1252},{"d":"2011-06-01","s":"fast","v":1261},{"d":"2011-07-01","s":"fast","v":1266},{"d":"2011-08-01","s":"fast","v":1257},{"d":"2011-09-01","s":"fast","v":1235.5},{"d":"2011-10-01","s":"fast","v":1238},{"d":"2011-11-01","s":"fast","v":1240},{"d":"2011-12-01","s":"fast","v":1241},{"d":"2012-01-01","s":"fast","v":1252},{"d":"2012-02-01","s":"fast","v":1270},{"d":"2012-03-01","s":"fast","v":1293},{"d":"2012-04-01","s":"fast","v":1310},{"d":"2012-05-01","s":"fast","v":1309},{"d":"2012-06-01","s":"fast","v":1310},{"d":"2012-07-01","s":"fast","v":1325},{"d":"2012-08-01","s":"fast","v":1336},{"d":"2012-09-01","s":"fast","v":1352},{"d":"2012-10-01","s":"fast","v":1364},{"d":"2012-11-01","s":"fast","v":1370},{"d":"2012-12-01","s":"fast","v":1379},{"d":"2013-01-01","s":"fast","v":1398},{"d":"2013-02-01","s":"fast","v":1413},{"d":"2013-03-01","s":"fast","v":1439},{"d":"2013-04-01","s":"fast","v":1462},{"d":"2013-05-01","s":"fast","v":1489},{"d":"2013-06-01","s":"fast","v":1509},{"d":"2013-07-01","s":"fast","v":1533},{"d":"2013-08-01","s":"fast","v":1546},{"d":"2013-09-01","s":"fast","v":1571},{"d":"2013-10-01","s":"fast","v":1599},{"d":"2013-11-01","s":"fast","v":1635},{"d":"2013-12-01","s":"fast","v":1666},{"d":"2014-01-01","s":"fast","v":1682},{"d":"2014-02-01","s":"fast","v":1711},{"d":"2014-03-01","s":"fast","v":1734},{"d":"2014-04-01","s":"fast","v":1757},{"d":"2014-05-01","s":"fast","v":1783},{"d":"2014-06-01","s":"fast","v":1809},{"d":"2014-07-01","s":"fast","v":1825},{"d":"2014-08-01","s":"fast","v":1854},{"d":"2014-09-01","s":"fast","v":1873},{"d":"2014-10-01","s":"fast","v":1896},{"d":"2014-11-01","s":"fast","v":1922},{"d":"2014-12-01","s":"fast","v":1942},{"d":"2015-01-01","s":"fast","v":1951},{"d":"2015-02-01","s":"fast","v":1970},{"d":"2015-03-01","s":"fast","v":1986},{"d":"2015-04-01","s":"fast","v":2001},{"d":"2015-05-01","s":"fast","v":2013},{"d":"2015-06-01","s":"fast","v":2023},{"d":"2015-07-01","s":"fast","v":2040},{"d":"2015-08-01","s":"fast","v":2029},{"d":"2015-09-01","s":"fast","v":2007},{"d":"2015-10-01","s":"fast","v":2017},{"d":"2015-11-01","s":"fast","v":2026},{"d":"2015-12-01","s":"fast","v":2030},{"d":"2016-01-01","s":"fast","v":2023},{"d":"2016-02-01","s":"fast","v":2003},{"d":"2016-03-01","s":"fast","v":2010},{"d":"2016-04-01","s":"fast","v":2017},{"d":"2016-05-01","s":"fast","v":2027},{"d":"2016-06-01","s":"fast","v":2041},{"d":"2016-07-01","s":"fast","v":2065},{"d":"2016-08-01","s":"fast","v":2079},{"d":"2016-09-01","s":"fast","v":2093},{"d":"2016-10-01","s":"fast","v":2097},{"d":"2016-11-01","s":"fast","v":2117},{"d":"2016-12-01","s":"fast","v":2136},{"d":"2017-01-01","s":"fast","v":2161},{"d":"2017-02-01","s":"fast","v":2192},{"d":"2017-03-01","s":"fast","v":2214},{"d":"2017-04-01","s":"fast","v":2239},{"d":"2017-05-01","s":"fast","v":2268},{"d":"2017-06-01","s":"fast","v":2291},{"d":"2017-07-01","s":"fast","v":2315},{"d":"2017-08-01","s":"fast","v":2341},{"d":"2017-09-01","s":"fast","v":2367},{"d":"2017-10-01","s":"fast","v":2402},{"d":"2017-11-01","s":"fast","v":2437},{"d":"2017-12-01","s":"fast","v":2473},{"d":"2018-01-01","s":"fast","v":2532},{"d":"2018-02-01","s":"fast","v":2557},{"d":"2018-03-01","s":"fast","v":2566},{"d":"2018-04-01","s":"fast","v":2580},{"d":"2018-05-01","s":"fast","v":2595},{"d":"2018-06-01","s":"fast","v":2612},{"d":"2018-07-01","s":"fast","v":2649},{"d":"2018-08-01","s":"fast","v":2684},{"d":"2018-09-01","s":"fast","v":2719},{"d":"2018-10-01","s":"fast","v":2722},{"d":"2018-11-01","s":"fast","v":2722},{"d":"2018-12-01","s":"fast","v":2690},{"d":"2019-01-01","s":"fast","v":2695},{"d":"2019-02-01","s":"fast","v":2708},{"d":"2019-03-01","s":"fast","v":2728},{"d":"2019-04-01","s":"fast","v":2761},{"d":"2019-05-01","s":"fast","v":2764},{"d":"2019-06-01","s":"fast","v":2783},{"d":"2019-07-01","s":"fast","v":2816},{"d":"2019-08-01","s":"fast","v":2834},{"d":"2019-09-01","s":"fast","v":2858},{"d":"2019-10-01","s":"fast","v":2884},{"d":"2019-11-01","s":"fast","v":2929},{"d":"2019-12-01","s":"fast","v":2976},{"d":"2020-01-01","s":"fast","v":3010},{"d":"2020-02-01","s":"fast","v":3001},{"d":"2020-03-01","s":"fast","v":2934},{"d":"2020-04-01","s":"fast","v":2929},{"d":"2020-05-01","s":"fast","v":2951},{"d":"2020-06-01","s":"fast","v":2976},{"d":"2020-07-01","s":"fast","v":3018},{"d":"2020-08-01","s":"fast","v":3096},{"d":"2020-09-01","s":"fast","v":3133},{"d":"2020-10-01","s":"fast","v":3156},{"d":"2020-11-01","s":"fast","v":3239},{"d":"2020-12-01","s":"fast","v":3301},{"d":"2021-01-01","s":"fast","v":3367},{"d":"2021-02-01","s":"fast","v":3434},{"d":"2021-03-01","s":"fast","v":3522},{"d":"2021-04-01","s":"fast","v":3636},{"d":"2021-05-01","s":"fast","v":3703},{"d":"2021-06-01","s":"fast","v":3787},{"d":"2021-07-01","s":"fast","v":3886},{"d":"2021-08-01","s":"fast","v":3983},{"d":"2021-09-01","s":"fast","v":4032},{"d":"2021-10-01","s":"fast","v":4131},{"d":"2021-11-01","s":"fast","v":4201},{"d":"2021-12-01","s":"fast","v":4284},{"d":"2022-01-01","s":"fast","v":4313},{"d":"2022-02-01","s":"fast","v":4320},{"d":"2022-03-01","s":"fast","v":4352},{"d":"2022-04-01","s":"fast","v":4325},{"d":"2022-05-01","s":"fast","v":4296},{"d":"2022-06-01","s":"fast","v":4218},{"d":"2022-07-01","s":"fast","v":4201},{"d":"2022-08-01","s":"fast","v":4166},{"d":"2022-09-01","s":"fast","v":4075},{"d":"2022-10-01","s":"fast","v":4041},{"d":"2022-11-01","s":"fast","v":4046},{"d":"2022-12-01","s":"fast","v":4023},{"d":"2023-01-01","s":"fast","v":4019},{"d":"2023-02-01","s":"fast","v":4023},{"d":"2023-03-01","s":"fast","v":4023},{"d":"2023-04-01","s":"fast","v":4053},{"d":"2023-05-01","s":"fast","v":4075},{"d":"2023-06-01","s":"fast","v":4130},{"d":"2023-07-01","s":"fast","v":4200.12}
],
"tags":[
{"d":"2024-04-29","d2":"2025-01-02","p":4671,"p2":4488,"k":"close"},
{"d":"2024-04-29","d2":"2025-01-02","p":4278,"p2":4111,"k":"fast"},
{"d":"2024-04-29","d2":"2025-01-02","p":4111,"p2":3950,"k":"mid"},
{"d":"2024-04-29","d2":"2025-01-02","p":3950,"p2":3796,"k":"slow"}
],
"button":[{"d":"2024-05-27","d2":"2025-01-02","p":5029,"p2":4754,"k":"panel"}],
"notes":[
{"d":"2024-06-03","p":4582,"t":"4582.23","k":"dark","z":24},
{"d":"2024-06-03","p":4195,"t":"4200.12","k":"dark","z":24},
{"d":"2024-06-03","p":4029,"t":"4098.91","k":"dark","z":24},
{"d":"2024-06-03","p":3872,"t":"3965.16","k":"light","z":24},
{"d":"2024-06-30","p":4890,"t":"point","k":"muted","z":24},
{"d":"2006-09-28","p":4890,"t":"S&P 500 INDEX, 1M, CBOE","k":"light","z":24},
{"d":"2008-06-20","p":4890,"t":"+131.85 (+2.96%)","k":"close","z":24}
],
"logo":[
{"g":"a","u":-156,"v":0},{"g":"a","u":0,"v":156},{"g":"a","u":79,"v":78},
{"g":"b","u":-156,"v":0},{"g":"b","u":0,"v":-156},{"g":"b","u":79,"v":-78},
{"g":"c","u":-110,"v":0},{"g":"c","u":-106,"v":28},{"g":"c","u":-95,"v":55},{"g":"c","u":-78,"v":78},{"g":"c","u":-55,"v":95},{"g":"c","u":-28,"v":106},{"g":"c","u":0,"v":110},{"g":"c","u":28,"v":106},{"g":"c","u":55,"v":95},{"g":"c","u":79,"v":78},
{"g":"d","u":-110,"v":0},{"g":"d","u":-106,"v":-28},{"g":"d","u":-95,"v":-55},{"g":"d","u":-78,"v":-78},{"g":"d","u":-55,"v":-95},{"g":"d","u":-28,"v":-106},{"g":"d","u":0,"v":-110},{"g":"d","u":28,"v":-106},{"g":"d","u":55,"v":-95},{"g":"d","u":79,"v":-78},
{"g":"t0","u":-46,"v":110},{"g":"t0","u":46,"v":110},
{"g":"t1","u":-33.2,"v":122.8},{"g":"t1","u":57.5,"v":98.5},
{"g":"t2","u":-57.5,"v":98.5},{"g":"t2","u":33.2,"v":122.8},
{"g":"t3","u":-18.4,"v":137.6},{"g":"t3","u":68.6,"v":87.4},
{"g":"t4","u":-68.6,"v":87.4},{"g":"t4","u":18.4,"v":137.6},
{"g":"b0","u":-46,"v":-110},{"g":"b0","u":46,"v":-110},
{"g":"b1","u":-33.2,"v":-122.8},{"g":"b1","u":57.5,"v":-98.5},
{"g":"b2","u":-57.5,"v":-98.5},{"g":"b2","u":33.2,"v":-122.8},
{"g":"b3","u":-18.4,"v":-137.6},{"g":"b3","u":68.6,"v":-87.4},
{"g":"b4","u":-68.6,"v":-87.4},{"g":"b4","u":18.4,"v":-137.6},
{"g":"l0","u":-110,"v":-46},{"g":"l0","u":-110,"v":46},
{"g":"l1","u":-122.8,"v":-33.2},{"g":"l1","u":-98.5,"v":57.5},
{"g":"l2","u":-122.8,"v":33.2},{"g":"l2","u":-98.5,"v":-57.5},
{"g":"l3","u":-137.6,"v":-18.4},{"g":"l3","u":-87.4,"v":68.6},
{"g":"l4","u":-137.6,"v":18.4},{"g":"l4","u":-87.4,"v":-68.6}
],
"logobg":[{"u":82,"u2":727,"v":163,"v2":23},{"u":82,"u2":727,"v":-24,"v2":-162}],
"logotext":[{"u":-72,"v":-1,"t":"C\u2009\u200aU\u2009\u200aB\u2009\u200aI\u2009\u200aC\u2009\u200aA\u2009\u200aN\u2009\u200aA\u2009\u200aL\u2009\u200aY\u2009\u200aT\u2009\u200aI\u2009\u200aC\u2009\u200aS\u2009\u200a.\u2009\u200aS\u2009\u200aU\u2009\u200aB\u2009\u200aS\u2009\u200aT\u2009\u200aA\u2009\u200aC\u2009\u200aK\u2009\u200a.\u2009\u200aC\u2009\u200aO\u2009\u200aM"}]
},
"layer":[
{"encoding":{"x":{"field":"u","type":"quantitative","axis":null,"scale":{"domain":[-1405,1835],"nice":false,"zero":false}}},
"layer":[
{"data":{"name":"logobg"},"mark":{"type":"rect","color":"#030302"},"encoding":{"x2":{"field":"u2"},"y":{"field":"v","type":"quantitative","axis":null,"scale":{"domain":[-1529,206],"nice":false,"zero":false}},"y2":{"field":"v2"}}},
{"data":{"name":"logo"},"mark":{"type":"line","color":"#ffffff","strokeWidth":1.8},"encoding":{"detail":{"field":"g"},"y":{"field":"v","type":"quantitative","axis":null,"scale":{"domain":[-1529,206],"nice":false,"zero":false}}}},
{"data":{"name":"logotext"},"mark":{"type":"text","color":"#ffffff","font":"Inter","fontWeight":300,"fontSize":32.5,"align":"left","baseline":"middle"},"encoding":{"text":{"field":"t"},"y":{"field":"v","type":"quantitative","axis":null,"scale":{"domain":[-1529,206],"nice":false,"zero":false}}}}
]},
{"encoding":{"x":{"field":"d","type":"temporal","title":null,"scale":{"type":"utc","domain":["2006-09-20","2024-05-11"],"nice":false},"axis":{"title":null,"format":"%Y","values":["2007-01-01","2008-01-01","2009-01-01","2010-01-01","2011-01-01","2012-01-01","2013-01-01","2014-01-01","2015-01-01","2016-01-01","2017-01-01","2018-01-01","2019-01-01","2020-01-01","2021-01-01","2022-01-01","2023-01-01","2024-01-01"],"labelFont":"Inter","labelFontSize":25,"labelFontWeight":600,"labelColor":"#ffffff","labelPadding":16,"labelOverlap":false,"labelFlush":false,"labelBound":false}}},
"layer":[
{"data":{"name":"ma"},"mark":{"type":"line","strokeWidth":5.6,"strokeCap":"round","strokeJoin":"round"},"encoding":{"y":{"field":"v","type":"quantitative","title":null,"scale":{"type":"log","domain":[661.6,5052],"nice":false},"axis":{"title":null,"orient":"right","format":".2f","values":[714,770,830,900,980,1060,1140,1240,1340,1460,1580,1700,1850,2000,2200,2400,2600,2800,3100,3400,3800],"labelFont":"Inter","labelFontSize":24,"labelColor":"#f0f0f0","labelAlign":"left","labelPadding":11,"labelOverlap":false,"labelFlush":false,"labelBound":false}},"color":{"field":"s","type":"nominal","legend":null,"scale":{"domain":["slow","mid","fast","close","dark","light","muted","panel"],"range":["#ff1a2e","#26c6da","#ffeb3b","#33ff3d","#000000","#ffffff","#d1d4dc","#131722"]}}}},
{"data":{"name":"candles"},"mark":{"type":"rule","size":2},"encoding":{"y":{"field":"l","type":"quantitative","scale":{"type":"log","domain":[661.6,5052],"nice":false}},"y2":{"field":"h"},"color":{"condition":{"test":"datum.c>=datum.o","value":"#33ff3d"},"value":"#ff1a2e"}}},
{"data":{"name":"candles"},"mark":{"type":"bar","size":12,"strokeWidth":1,"orient":"vertical"},"encoding":{"y":{"field":"o","type":"quantitative","scale":{"type":"log","domain":[661.6,5052],"nice":false}},"y2":{"field":"c"},"color":{"condition":{"test":"datum.c>=datum.o","value":"#33ff3d"},"value":"#ff1a2e"},"stroke":{"condition":{"test":"datum.c>=datum.o","value":"#33ff3d"},"value":"#ff1a2e"}}},
{"data":{"name":"tags"},"mark":{"type":"rect","cornerRadiusTopRight":3,"cornerRadiusBottomRight":3},"encoding":{"x2":{"field":"d2"},"y":{"field":"p","type":"quantitative","scale":{"type":"log","domain":[661.6,5052],"nice":false}},"y2":{"field":"p2"},"color":{"field":"k","type":"nominal","legend":null,"scale":{"domain":["slow","mid","fast","close","dark","light","muted","panel"],"range":["#ff1a2e","#26c6da","#ffeb3b","#33ff3d","#000000","#ffffff","#d1d4dc","#131722"]}}}},
{"data":{"name":"button"},"mark":{"type":"rect","cornerRadius":7,"stroke":"#363a45","strokeWidth":1.5},"encoding":{"x2":{"field":"d2"},"y":{"field":"p","type":"quantitative","scale":{"type":"log","domain":[661.6,5052],"nice":false}},"y2":{"field":"p2"},"color":{"field":"k","type":"nominal","legend":null,"scale":{"domain":["slow","mid","fast","close","dark","light","muted","panel"],"range":["#ff1a2e","#26c6da","#ffeb3b","#33ff3d","#000000","#ffffff","#d1d4dc","#131722"]}}}},
{"data":{"name":"notes"},"mark":{"type":"text","font":"Inter","align":"left","baseline":"middle"},"encoding":{"text":{"field":"t"},"size":{"field":"z","type":"quantitative","legend":null,"scale":null},"y":{"field":"p","type":"quantitative","scale":{"type":"log","domain":[661.6,5052],"nice":false}},"color":{"field":"k","type":"nominal","legend":null,"scale":{"domain":["slow","mid","fast","close","dark","light","muted","panel"],"range":["#ff1a2e","#26c6da","#ffeb3b","#33ff3d","#000000","#ffffff","#d1d4dc","#131722"]}}}}
]}
],
"resolve":{"scale":{"x":"independent","y":"independent"}}}
